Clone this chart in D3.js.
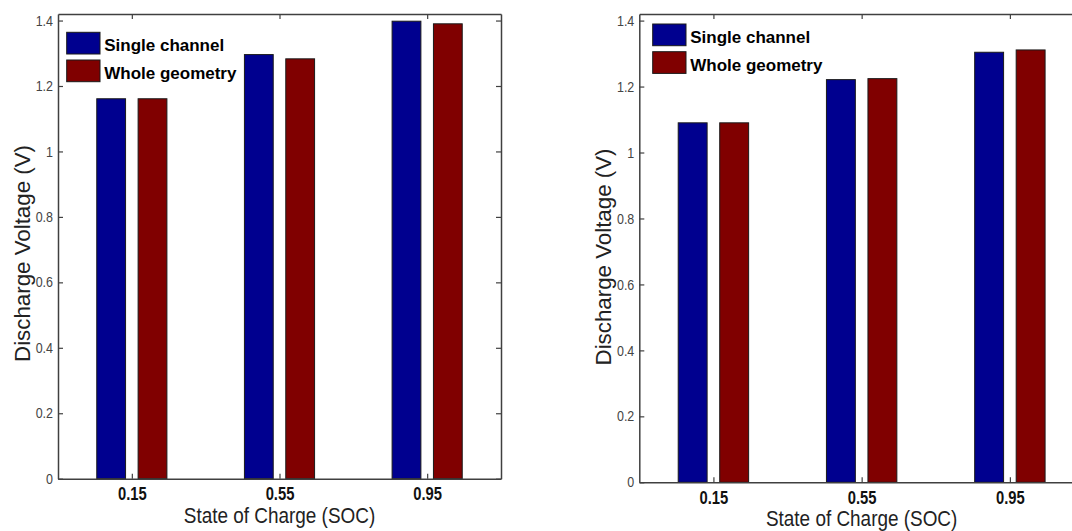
<!DOCTYPE html>
<html>
<head>
<meta charset="utf-8">
<script src="https://cdn.jsdelivr.net/npm/d3@7"></script>
<style>
  body { margin: 0; background: #fff; }
  svg text { font-family: Arial, "Liberation Sans", sans-serif; }
</style>
</head>
<body>
<svg id="chart" width="1072" height="531"></svg>
<script>
// data
var categories = ["0.15", "0.55", "0.95"];
var seriesNames = ["Single channel", "Whole geometry"];
var leftSingle = [1.161, 1.296, 1.398];
var leftWhole = [1.161, 1.283, 1.390];
var rightSingle = [1.090, 1.221, 1.304];
var rightWhole = [1.090, 1.224, 1.311];
var yTickValues = [0, 0.2, 0.4, 0.6, 0.8, 1, 1.2, 1.4];

var colors = ["#00008f", "#800000"];
var axisColor = "#404040";

var svg = d3.select("#chart");

// squeeze text horizontally (the source image is a bit stretched)
function squeeze(sel, k) {
	sel.each(function() {
		var len = this.getComputedTextLength();
		d3.select(this).attr("textLength", len * k).attr("lengthAdjust", "spacingAndGlyphs");
	});
}

var panels = [
	{ x0: 58, x1: 501, y0: 478.7, top: 14, series: [leftSingle, leftWhole], legX: 66.7, legY: 32.3, labX: 30, labY: 253.5 },
	{ x0: 639.3, x1: 1084, y0: 482.3, top: 14, series: [rightSingle, rightWhole], legX: 652.7, legY: 24, labX: 611, labY: 257 }
];

panels.forEach(function(p) {
	var x = d3.scaleLinear().domain([0.5, 3.5]).range([p.x0, p.x1]);
	var y = d3.scaleLinear().domain([0, 1.42]).range([p.y0, p.top]);
	var g = svg.append("g");

	// bars
	var offsets = [-0.14, 0.14];
	var bw = 0.195;
	p.series.forEach(function(vals, s) {
		g.selectAll(null).data(vals).enter().append("rect")
			.attr("x", function(d, i) { return x(i + 1 + offsets[s] - bw / 2); })
			.attr("width", x(1 + bw) - x(1))
			.attr("y", function(d) { return y(d); })
			.attr("height", function(d) { return y(0) - y(d); })
			.attr("fill", colors[s])
			.attr("stroke", "#1a1a1a")
			.attr("stroke-width", 1);
	});

	// axes, ticks pointing inward on all sides
	var catTicks = [1, 2, 3];
	var bottom = g.append("g").attr("transform", "translate(0," + y(0) + ")")
		.call(d3.axisBottom(x).tickValues(catTicks).tickSizeInner(-5).tickSizeOuter(0)
			.tickFormat(function(d) { return categories[d - 1]; }));
	var top = g.append("g").attr("transform", "translate(0," + p.top + ")")
		.call(d3.axisTop(x).tickValues(catTicks).tickSizeInner(-5).tickSizeOuter(0).tickFormat(""));
	var left = g.append("g").attr("transform", "translate(" + p.x0 + ",0)")
		.call(d3.axisLeft(y).tickValues(yTickValues).tickSizeInner(-5).tickSizeOuter(0).tickPadding(5)
			.tickFormat(function(d) { return d3.format("")(+d.toFixed(1)); }));
	var right = g.append("g").attr("transform", "translate(" + p.x1 + ",0)")
		.call(d3.axisRight(y).tickValues(yTickValues).tickSizeInner(-5).tickSizeOuter(0).tickFormat(""));

	[bottom, top, left, right].forEach(function(a) {
		a.select(".domain").attr("stroke", axisColor).attr("stroke-width", 1.5);
		a.selectAll(".tick line").attr("stroke", axisColor).attr("stroke-width", 1.2);
	});

	bottom.selectAll(".tick text")
		.attr("dy", null).attr("y", 21.5)
		.attr("font-size", 18).attr("font-weight", "bold").attr("fill", "#111")
		.call(squeeze, 0.82);

	left.selectAll(".tick text")
		.attr("font-size", 14.5).attr("fill", "#444")
		.call(squeeze, 0.86);

	// axis labels
	svg.append("text")
		.attr("x", x(2)).attr("y", p.y0 + 44)
		.attr("text-anchor", "middle").attr("font-size", 22).attr("fill", "#222")
		.text("State of Charge (SOC)")
		.call(squeeze, 0.86);

	svg.append("text")
		.attr("transform", "translate(" + p.labX + "," + p.labY + ") rotate(-90)")
		.attr("text-anchor", "middle").attr("font-size", 22).attr("fill", "#222")
		.text("Discharge Voltage (V)")
		.attr("textLength", 217).attr("lengthAdjust", "spacingAndGlyphs");

	// legend
	var leg = g.append("g").attr("transform", "translate(" + p.legX + "," + p.legY + ")");
	seriesNames.forEach(function(name, s) {
		leg.append("rect")
			.attr("x", 0).attr("y", s * 27.7)
			.attr("width", 33.3).attr("height", 21.7)
			.attr("fill", colors[s]).attr("stroke", "#1a1a1a").attr("stroke-width", 1);
		leg.append("text")
			.attr("x", 37.5).attr("y", s * 27.7 + 18.8)
			.attr("font-size", 17).attr("font-weight", "bold").attr("fill", "#000")
			.text(name);
	});
});
</script>
</body>
</html>
